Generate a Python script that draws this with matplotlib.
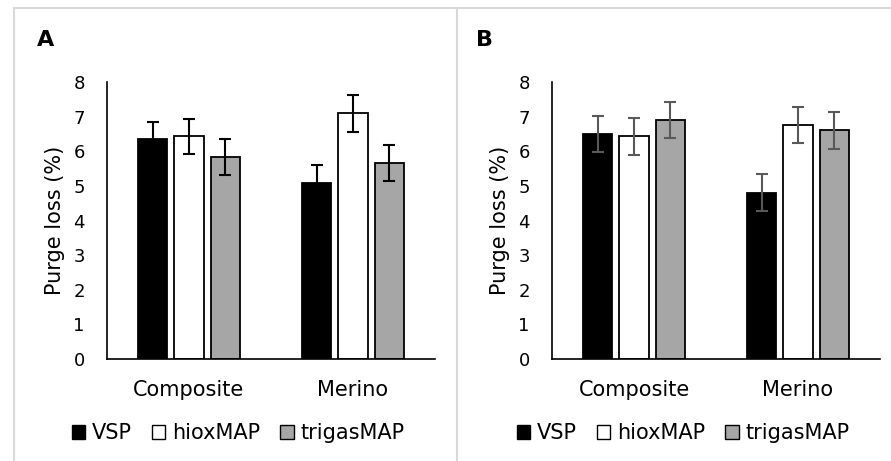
import numpy as np
import matplotlib
matplotlib.use("Agg")
import matplotlib.pyplot as plt
from matplotlib.lines import Line2D
from matplotlib.patches import Patch

plt.rcParams['font.family'] = ['DejaVu Sans']

categories = ['Composite', 'Merino']
series = ['VSP', 'hioxMAP', 'trigasMAP']
colors = ['#000000', '#ffffff', '#a6a6a6']

# panel A
a_vals = [[6.35, 5.07], [6.43, 7.10], [5.83, 5.65]]
a_err = [[0.5, 0.52], [0.51, 0.53], [0.52, 0.52]]
# panel B
b_vals = [[6.50, 4.80], [6.43, 6.76], [6.90, 6.60]]
b_err = [[0.53, 0.53], [0.53, 0.53], [0.53, 0.53]]

W, H = 891, 461
fig = plt.figure(figsize=(W / 100, H / 100), dpi=100)


def draw_panel(left, letter, letter_x, vals, errs, ecolor):
    ax = fig.add_axes([left / W, 1 - 359 / H, 328 / W, 277 / H])
    x = np.arange(len(categories))
    width = 0.178
    step = 0.222
    for i, name in enumerate(series):
        ax.bar(x + (i - 1) * step, vals[i], width, yerr=errs[i],
               color=colors[i], edgecolor='black', linewidth=1.3,
               error_kw=dict(ecolor=ecolor, elinewidth=1.5, capsize=4, capthick=1.5),
               label=name)
    ax.set_xlim(-0.5, 1.5)
    ax.set_ylim(0, 8)
    ax.set_yticks(range(0, 9))
    ax.set_xticks(x)
    ax.set_xticklabels(categories, fontsize=15)
    ax.tick_params(axis='both', length=0)
    ax.tick_params(axis='y', labelsize=13, pad=16)
    ax.tick_params(axis='x', pad=15)
    for s in ['top', 'right']:
        ax.spines[s].set_visible(False)
    ax.spines['left'].set_linewidth(1.2)
    ax.spines['bottom'].set_linewidth(1.2)
    ax.set_ylabel('Purge loss (%)', fontsize=15, labelpad=6)
    fig.text(letter_x / W, 1 - 40 / H, letter, fontsize=16, fontweight='bold',
             ha='center', va='center')
    handles = [Patch(facecolor=c, edgecolor='black', linewidth=1) for c in colors]
    ax.legend(handles, series, loc='center', bbox_to_anchor=(0.40, -0.268),
              ncol=3, frameon=False, fontsize=15, handlelength=0.65,
              handleheight=0.65, handletextpad=0.33, columnspacing=0.95,
              borderpad=0, borderaxespad=0)


draw_panel(107, 'A', 46, a_vals, a_err, 'black')
draw_panel(552, 'B', 485, b_vals, b_err, '#595959')

# light panel frames
frame = '#d9d9d9'
fig.add_artist(Line2D([14 / W, 1], [1 - 8 / H, 1 - 8 / H], color=frame, lw=1.5))
fig.add_artist(Line2D([14 / W, 14 / W], [0, 1 - 8 / H], color=frame, lw=1.5))
fig.add_artist(Line2D([457 / W, 457 / W], [0, 1 - 8 / H], color=frame, lw=1.5))

fig.savefig('out.png', dpi=100)
